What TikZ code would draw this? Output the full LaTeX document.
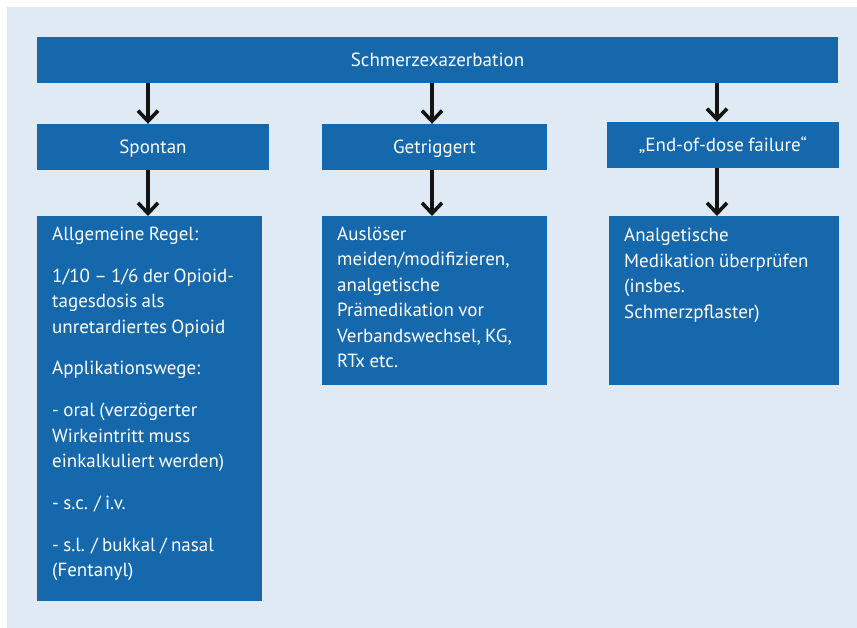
\documentclass[tikz,border=0pt]{standalone}
\usepackage{fontspec}
\setmainfont[WordSpace=0.85]{PT Sans}
\usetikzlibrary{arrows.meta}
\definecolor{boxblue}{RGB}{22,104,172}
\definecolor{bgblue}{RGB}{224,234,244}
\definecolor{arrowblack}{RGB}{20,20,20}
\newcommand{\boxpar}[4]{%
  \parbox[c][#2][t]{#1}{\fontsize{19}{25.5}\selectfont\leftskip=15pt\rightskip=-40pt plus 1fil\parindent=0pt\parfillskip=0pt plus 1fil\parskip=16.3pt\leavevmode\rule{0pt}{#3}#4}}
\tikzset{
  hbox/.style={fill=boxblue, draw=none, inner sep=0pt, text=white, font=\fontsize{19}{22}\selectfont, text height=13.3pt, text depth=0pt, align=center},
  cbox/.style={fill=boxblue, draw=none, inner sep=0pt, anchor=north west, text=white},
  arr/.style={draw=arrowblack, line width=3.6pt, -{Straight Barb[length=10.5pt,width=20pt]}}
}
\begin{document}
\begin{tikzpicture}[x=1pt,y=-1pt]
\useasboundingbox (0,0) rectangle (857,628);
\fill[white] (0,0) rectangle (857,628);
\fill[bgblue] (7,7) rectangle (857,628);

\node[hbox, minimum width=801pt, minimum height=46pt] (top) at (437.5,60) {Schmerzexazerbation};
\node[hbox, minimum width=232pt, minimum height=46pt] (spon) at (153,147) {Spontan};
\node[hbox, minimum width=225pt, minimum height=46pt] (trig) at (434.5,147) {Getriggert};
\node[hbox, minimum width=232pt, minimum height=46pt] (eod) at (723,145) {„End-of-dose failure“};

\node[cbox] (left) at (37,216) {\boxpar{225pt}{385pt}{24pt}{Allgemeine Regel:\par
1/10 – 1/6 der Opioid-\\tagesdosis als\\unretardiertes Opioid\par
Applikationswege:\par
- oral (verzögerter\\Wirkeintritt muss\\einkalkuliert werden)\par
- s.c. / i.v.\par
- s.l. / bukkal / nasal\\(Fentanyl)}};
\node[cbox] (mid) at (322,216) {\boxpar{225pt}{169pt}{24pt}{Auslöser\\meiden/modifizieren,\\analgetische\\Prämedikation vor\\Verbandswechsel, KG,\\RTx etc.}};
\node[cbox] (right) at (609,216) {\boxpar{230pt}{169pt}{25.5pt}{Analgetische\\Medikation überprüfen\\(insbes.\\Schmerzpflaster)}};

\coordinate (xa) at (148,0);
\coordinate (xb) at (432,0);
\coordinate (xc) at (717,0);

\draw[arr] (top.south -| xa) -- (spon.north -| xa);
\draw[arr] (top.south -| xb) -- (trig.north -| xb);
\draw[arr] (top.south -| xc) -- (eod.north -| xc);
\draw[arr] (spon.south -| xa) -- (left.north -| xa);
\draw[arr] (trig.south -| xb) -- (mid.north -| xb);
\draw[arr] (eod.south -| xc) -- (right.north -| xc);
\end{tikzpicture}
\end{document}
